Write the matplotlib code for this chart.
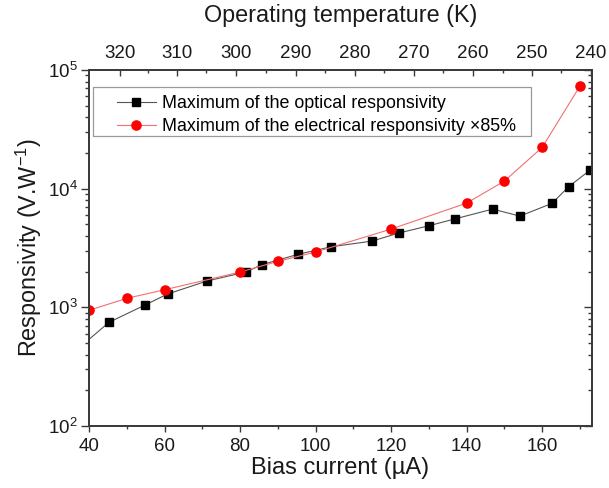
import numpy as np
import matplotlib
matplotlib.use('Agg')
from matplotlib import pyplot as plt
from matplotlib.legend_handler import HandlerLine2D
from matplotlib.patches import Rectangle

plt.rcParams['font.family'] = ['Liberation Sans', 'DejaVu Sans']
plt.rcParams['mathtext.fontset'] = 'custom'
plt.rcParams['mathtext.rm'] = 'Liberation Sans'
plt.rcParams['mathtext.default'] = 'regular'

# courant de polarisation (uA) et responsivité (V/W)
optical_current = [37, 45.3, 54.8, 60.8, 71.2, 81.5, 85.7, 95.3, 104.1, 115.0,
                   122.0, 130.0, 137.0, 146.9, 154.1, 162.6, 167.0, 172.7]
optical_resp = [445, 748, 1045, 1295, 1666, 1983, 2285, 2796, 3239, 3620,
                4227, 4870, 5577, 6730, 5876, 7520, 10380, 14350]

electrical_current = [40, 50, 60, 80, 90, 100, 120, 140, 150, 160, 170]
electrical_resp = [944, 1191, 1407, 1983, 2441, 2924, 4566, 7560, 11590, 22280, 73140]

# axe du haut : température de fonctionnement
temp_labels = [320, 310, 300, 290, 280, 270, 260, 250, 240]
temp_current = [48.2, 63.3, 78.9, 94.8, 110.4, 126.0, 141.7, 157.3, 172.9]

axis_col = '#3a3a3a'
txt_col = '#1a1a1a'

fig = plt.figure(figsize=(6.09, 4.88), dpi=100)
ax = fig.add_axes([0.1461, 0.127, 0.826, 0.7295])

ax.plot(optical_current, optical_resp, color='#555555', lw=0.8, marker='s',
        ms=5.8, mfc='black', mec='black',
        label='Maximum of the optical responsivity')
ax.plot(electrical_current, electrical_resp, color='#f07070', lw=0.8, marker='o',
        ms=6.6, mfc='red', mec='red',
        label='Maximum of the electrical responsivity \u00d785%')

ax.set_yscale('log')
ax.set_xlim(40, 173.2)
ax.set_ylim(1e2, 1e5)
ax.set_xticks(range(40, 161, 20))
ax.set_xticks(range(50, 171, 20), minor=True)

for s in ax.spines.values():
    s.set_color(axis_col)
    s.set_linewidth(1.1)

ax.tick_params(axis='both', which='both', direction='out', colors=axis_col,
               labelcolor=txt_col, labelsize=13.5, width=1.0)
ax.tick_params(axis='x', which='major', length=4.3, pad=4)
ax.tick_params(axis='x', which='minor', length=2.3)
ax.tick_params(axis='y', which='major', length=5.5, pad=2.5)
ax.tick_params(axis='y', which='minor', length=3)

ax.set_xlabel('Bias current (\u00b5A)', fontsize=17, color=txt_col, labelpad=2)
ax.set_ylabel('Responsivity (V.W$^{-1}$)', fontsize=16.8, color=txt_col)
ax.yaxis.set_label_coords(-0.09, 0.5)

# graduations à droite, vers l'intérieur
axr = ax.twinx()
axr.set_yscale('log')
axr.set_ylim(ax.get_ylim())
axr.tick_params(axis='y', which='both', direction='in', colors=axis_col,
                labelright=False, width=1.0)
axr.tick_params(axis='y', which='major', length=5.5)
axr.tick_params(axis='y', which='minor', length=3)

# axe du haut
axt = ax.twiny()
axt.set_xlim(ax.get_xlim())
axt.set_xticks(temp_current)
axt.set_xticklabels([str(t) for t in temp_labels])
axt.set_xticks(np.interp(np.arange(315, 240, -10), temp_labels[::-1], temp_current[::-1]),
               minor=True)
axt.tick_params(axis='x', which='both', direction='in', colors=axis_col,
                labelcolor=txt_col, labelsize=13.5, width=1.0, pad=6)
axt.tick_params(axis='x', which='major', length=4.3)
axt.tick_params(axis='x', which='minor', length=2.3)
axt.set_xlabel('Operating temperature (K)', fontsize=16.8, color=txt_col, labelpad=16)

for a in (axr, axt):
    for s in a.spines.values():
        s.set_color(axis_col)
        s.set_linewidth(1.1)

# légende sans cadre, cadre dessiné à part
hmap = {l: HandlerLine2D(xpad=0.0) for l in ax.get_lines()}
leg = ax.legend(loc='upper left', bbox_to_anchor=(0.055, 0.930), borderaxespad=0,
                fontsize=12.9, handlelength=2.2, handletextpad=0.35, borderpad=0.0,
                labelspacing=0.34, frameon=False, handler_map=hmap)
ax.add_patch(Rectangle((0.008, 0.815), 0.871, 0.137, transform=ax.transAxes,
                       fill=False, edgecolor='#999999', lw=0.9, zorder=4))

fig.savefig('out.png', dpi=100)
